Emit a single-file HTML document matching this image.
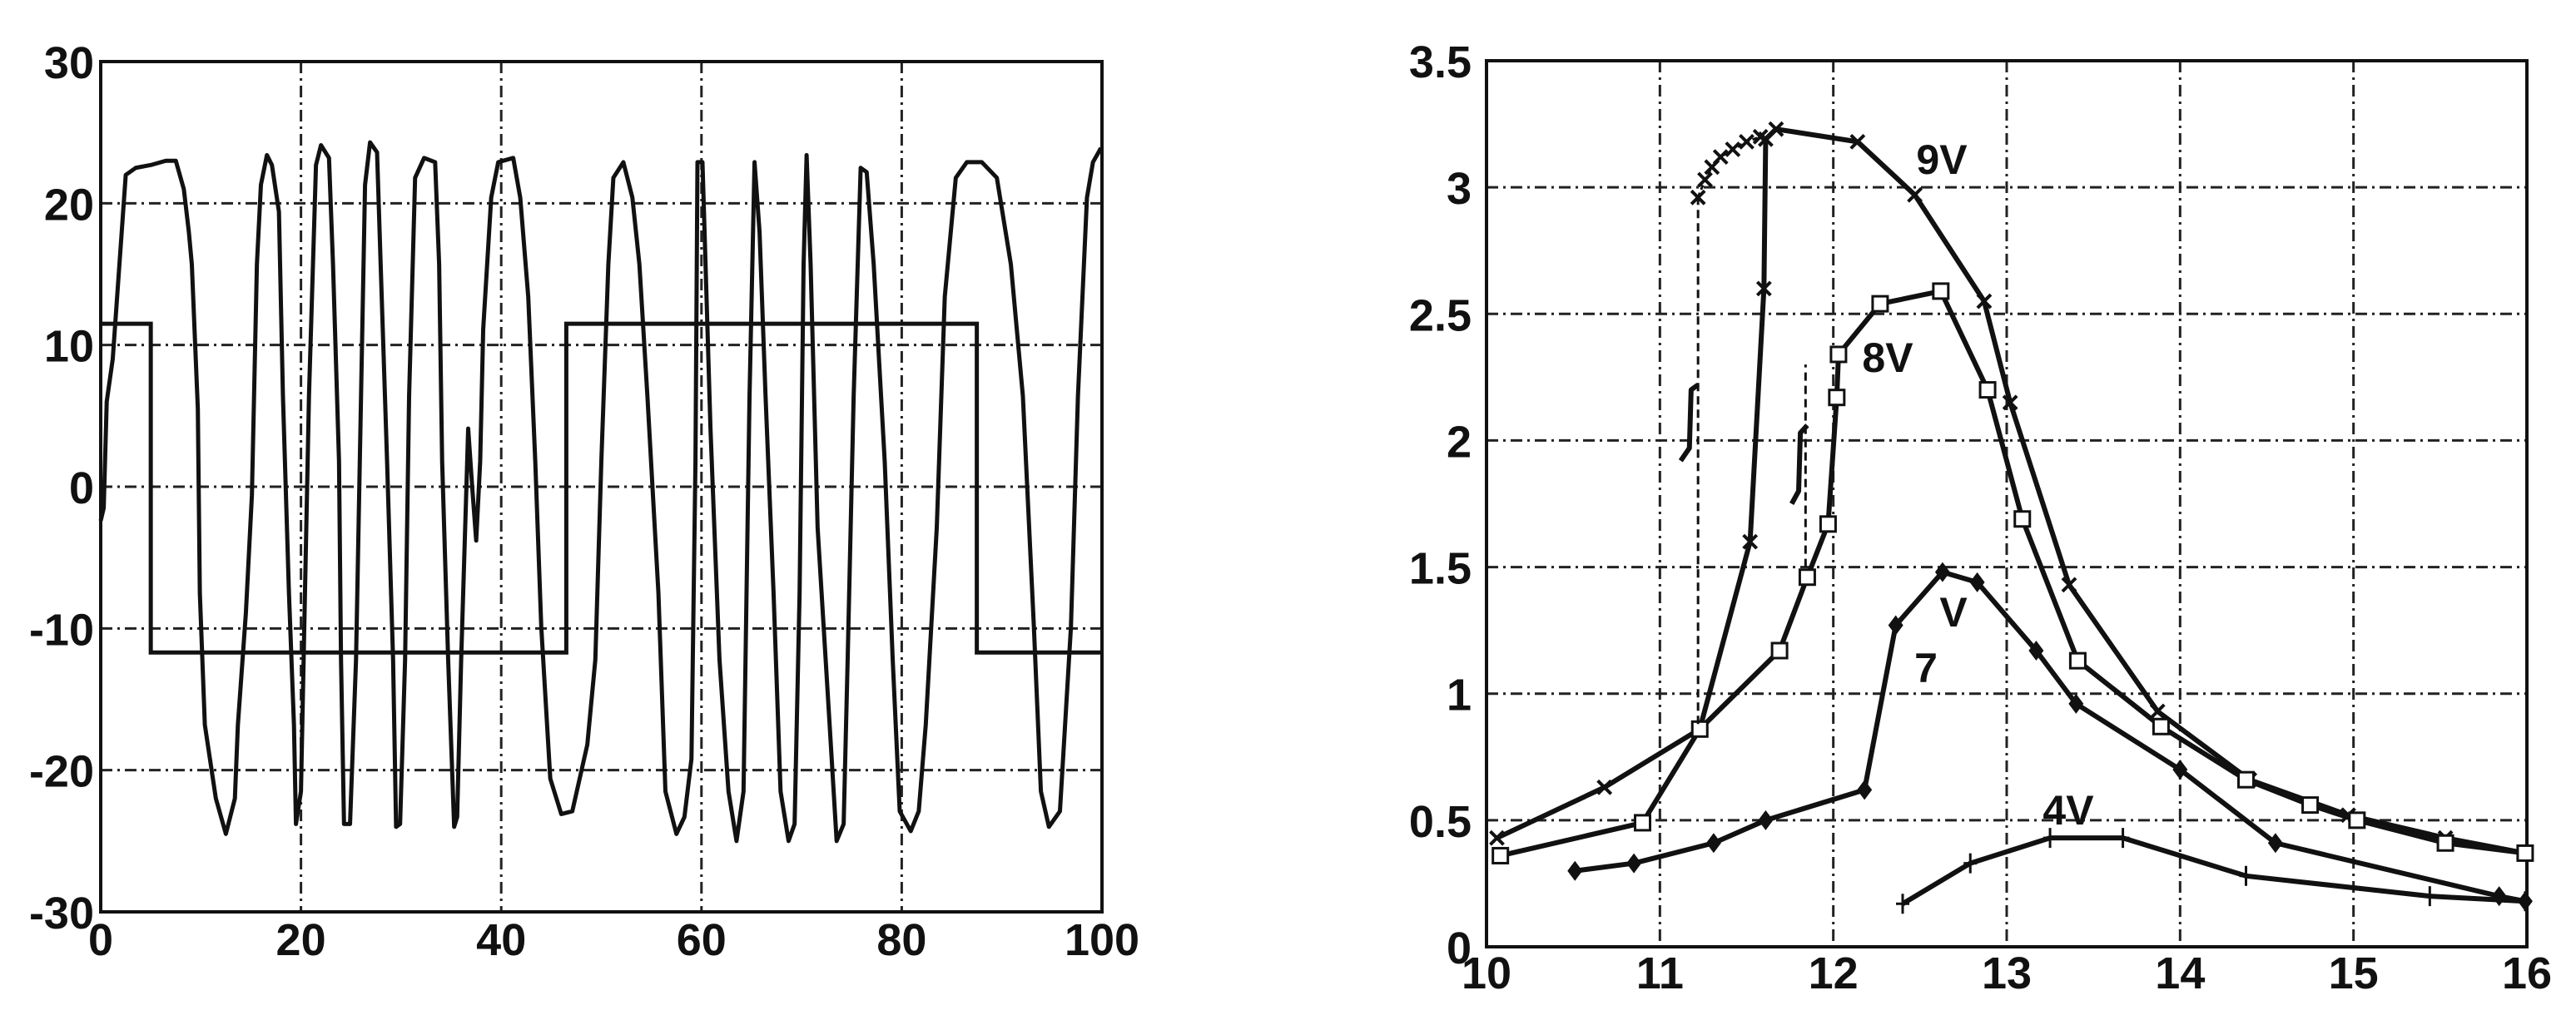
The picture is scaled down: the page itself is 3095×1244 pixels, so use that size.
<!DOCTYPE html>
<html><head><meta charset="utf-8">
<style>
html,body{margin:0;padding:0;background:#fff;}
svg{display:block;}
text{font-family:"Liberation Sans Narrow","Liberation Sans",sans-serif;font-weight:bold;fill:#111;}
</style></head>
<body>
<svg id="root" width="3095" height="1244" viewBox="0 0 3095 1244" xmlns="http://www.w3.org/2000/svg">
<g id="left"></g>
<g id="right"></g>
</svg>
<script>
// ---------- LEFT CHART DATA ----------
const leftXTicks = [0,20,40,60,80,100];
const leftYTicks = [30,20,10,0,-10,-20,-30];
const squareT = [0,5,5,46.5,46.5,87.5,87.5,100];
const squareV = [11.5,11.5,-11.7,-11.7,11.5,11.5,-11.7,-11.7];
const waveT = [0,0.3,0.6,1.2,1.8,2.5,3.5,5,6.5,7.5,8.3,8.8,9.1,9.7,9.9,10.4,11.5,12.5,13.4,13.7,14.5,15.1,15.6,16.0,16.6,17.1,17.8,18.2,18.8,19.3,19.5,20.0,20.4,20.8,21.2,21.5,22.0,22.8,23.2,23.8,24.0,24.3,24.9,25.5,26.0,26.4,26.9,27.6,28.0,28.6,29.2,29.5,29.9,30.4,30.8,31.4,32.3,33.4,33.8,34.1,34.7,35.3,35.6,36.0,36.4,36.7,37.1,37.5,37.9,38.2,39.0,39.7,41.2,41.9,42.7,43.4,44.0,44.9,46.0,47.1,48.6,49.4,50.0,50.7,51.2,52.2,53.1,53.8,54.6,55.7,56.4,57.5,58.3,59.0,59.4,59.6,60.1,60.9,61.8,62.7,63.5,64.2,64.8,65.3,65.8,66.4,67.2,67.9,68.7,69.3,69.8,70.2,70.5,70.9,71.6,72.8,73.5,74.2,74.6,75.2,75.9,76.5,77.2,78.3,79.1,79.8,80.9,81.7,82.4,83.5,84.3,85.4,86.5,88.0,89.5,90.9,92.1,93.2,93.9,94.7,95.8,96.9,97.6,98.5,99.1,99.9];
const waveV = [-2.4,-1.5,6,9,15,22,22.5,22.7,23,23,21,18,15.7,5.5,-7.5,-16.8,-22,-24.5,-22,-16.8,-8.9,-0.6,15.7,21.3,23.4,22.7,19.4,6.4,-7.5,-16.8,-23.8,-21.5,-7.5,6.4,15.7,22.7,24.1,23.2,15.7,1.8,-12.2,-23.8,-23.8,-12.2,6.4,21.3,24.3,23.6,14.8,1.8,-12.2,-24.0,-23.8,-12.2,6.4,21.8,23.2,22.9,15.7,1.8,-12.2,-24.0,-23.3,-12.2,-2.9,4.1,0,-3.8,1.8,11.1,20.4,22.9,23.2,20.4,13.4,1.8,-9.9,-20.6,-23.1,-22.9,-18.2,-12.2,1.8,15.7,21.8,22.9,20.4,15.7,6.4,-7.5,-21.5,-24.5,-23.3,-19.2,1.8,22.9,22.9,4.1,-12.2,-21.5,-25.0,-21.5,6.4,22.9,18.0,6.4,-7.5,-21.5,-25.0,-23.8,-7.5,15.7,23.4,15.7,-2.9,-16.8,-25.0,-23.8,-12.2,6.4,22.5,22.2,15.7,1.8,-12.2,-22.9,-24.3,-22.9,-16.8,-2.9,13.4,21.8,22.9,22.9,21.8,15.7,6.4,-9.9,-21.5,-24.0,-22.9,-9.9,6.4,20.4,22.9,23.9];

// ---------- RIGHT CHART DATA ----------
const rightXTicks = [10,11,12,13,14,15,16];
const rightYTicks = [0,0.5,1,1.5,2,2.5,3,3.5];
const v9X = [10.06,10.68,11.23,11.52,11.6,11.61,11.67,12.14,12.47,12.87,13.02,13.36,13.87,14.40,14.97,15.53,15.99];
const v9Y = [0.43,0.63,0.86,1.60,2.6,3.19,3.23,3.18,2.97,2.55,2.15,1.43,0.93,0.66,0.52,0.43,0.37];
const v8X = [10.08,10.90,11.23,11.69,11.85,11.97,12.02,12.03,12.27,12.62,12.89,13.09,13.41,13.89,14.38,14.75,15.02,15.53,15.99];
const v8Y = [0.36,0.49,0.86,1.17,1.46,1.67,2.17,2.34,2.54,2.59,2.20,1.69,1.13,0.87,0.66,0.56,0.50,0.41,0.37];
const v7X = [10.51,10.85,11.31,11.61,12.18,12.36,12.63,12.83,13.17,13.40,14.0,14.55,15.84,15.99];
const v7Y = [0.30,0.33,0.41,0.50,0.62,1.27,1.48,1.44,1.17,0.96,0.70,0.41,0.20,0.18];
const v4X = [12.40,12.79,13.25,13.67,14.38,15.44,15.99];
const v4Y = [0.17,0.33,0.43,0.43,0.28,0.20,0.18];
const hyst9X = [11.22,11.26,11.3,11.35,11.42,11.5,11.58];
const hyst9Y = [2.96,3.03,3.08,3.12,3.15,3.18,3.2];
const hook9X = [11.12,11.17,11.18,11.22];
const hook9Y = [1.92,1.97,2.2,2.22];
const hook8X = [11.76,11.8,11.81,11.85];
const hook8Y = [1.75,1.8,2.03,2.06];

const NS = "http://www.w3.org/2000/svg";
function mk(parent, tag, attrs){ const e=document.createElementNS(NS,tag); for(const k in attrs) e.setAttribute(k,attrs[k]); parent.appendChild(e); return e; }

// LEFT axes
const L = {x0:121,x1:1324,y0:74,y1:1096,xmin:0,xmax:100,ymin:-30,ymax:30};
const lx = v => L.x0 + (v-L.xmin)/(L.xmax-L.xmin)*(L.x1-L.x0);
const ly = v => L.y1 - (v-L.ymin)/(L.ymax-L.ymin)*(L.y1-L.y0);
const gl = document.getElementById('left');
leftXTicks.forEach(t=>{
  if(t>L.xmin && t<L.xmax){
    const g=mk(gl,'line',{x1:lx(t),x2:lx(t),y1:L.y0,y2:L.y1,stroke:'#222','stroke-width':3,'stroke-dasharray':'14 6 3 6'});
    
    
  }
  const tx=mk(gl,'text',{x:lx(t),y:L.y1+52,'text-anchor':'middle','font-size':54});
  tx.textContent=t;
  
  
});
leftYTicks.forEach(t=>{
  if(t>L.ymin && t<L.ymax){
    const g=mk(gl,'line',{x1:L.x0,x2:L.x1,y1:ly(t),y2:ly(t),stroke:'#222','stroke-width':3,'stroke-dasharray':'14 6 3 6'});
    
    
  }
  const tx=mk(gl,'text',{x:L.x0-8,y:ly(t)+20,'text-anchor':'end','font-size':54});
  tx.textContent=t;
  
  
});
const lf=mk(gl,'rect',{x:L.x0,y:L.y0,width:L.x1-L.x0,height:L.y1-L.y0,fill:'none',stroke:'#111','stroke-width':4});


const sq=mk(gl,'polyline',{points:squareT.map((t,i)=>lx(t)+','+ly(squareV[i])).join(' '),fill:'none',stroke:'#111','stroke-width':5});


const wv=mk(gl,'polyline',{points:waveT.map((t,i)=>lx(t)+','+ly(waveV[i])).join(' '),fill:'none',stroke:'#111','stroke-width':5,'stroke-linejoin':'round'});



// RIGHT axes
const R = {x0:1786,x1:3036,y0:73,y1:1138,xmin:10,xmax:16,ymin:0,ymax:3.5};
const rx = v => R.x0 + (v-R.xmin)/(R.xmax-R.xmin)*(R.x1-R.x0);
const ry = v => R.y1 - (v-R.ymin)/(R.ymax-R.ymin)*(R.y1-R.y0);
const gr = document.getElementById('right');
rightXTicks.forEach(t=>{
  if(t>R.xmin && t<R.xmax){
    const g=mk(gr,'line',{x1:rx(t),x2:rx(t),y1:R.y0,y2:R.y1,stroke:'#222','stroke-width':3,'stroke-dasharray':'14 6 3 6'});
    
    
  }
  const tx=mk(gr,'text',{x:rx(t),y:R.y1+50,'text-anchor':'middle','font-size':54});
  tx.textContent=t;
  
  
});
rightYTicks.forEach(t=>{
  if(t>R.ymin && t<R.ymax){
    const g=mk(gr,'line',{x1:R.x0,x2:R.x1,y1:ry(t),y2:ry(t),stroke:'#222','stroke-width':3,'stroke-dasharray':'14 6 3 6'});
    
    
  }
  const tx=mk(gr,'text',{x:R.x0-18,y:ry(t)+20,'text-anchor':'end','font-size':54});
  tx.textContent=t;
  
  
});
const rf=mk(gr,'rect',{x:R.x0,y:R.y0,width:R.x1-R.x0,height:R.y1-R.y0,fill:'none',stroke:'#111','stroke-width':4});



function series(xs,ys,name,marker,dash){
  const p=mk(gr,'polyline',{points:xs.map((x,i)=>rx(x)+','+ry(ys[i])).join(' '),fill:'none',stroke:'#111','stroke-width':dash?3:6,'stroke-linejoin':'round'});
  if(dash) p.setAttribute('stroke-dasharray',dash);
  
  
  if(!marker) return;
  xs.forEach((x,i)=>{
    const cx=rx(x), cy=ry(ys[i]); let m;
    if(marker==='square') m=mk(gr,'rect',{x:cx-9,y:cy-9,width:18,height:18,fill:'#fff',stroke:'#111','stroke-width':3});
    else if(marker==='diamond') m=mk(gr,'path',{d:`M${cx} ${cy-12}L${cx+9} ${cy}L${cx} ${cy+12}L${cx-9} ${cy}Z`,fill:'#111'});
    else if(marker==='plus') m=mk(gr,'path',{d:`M${cx} ${cy-12}V${cy+12}M${cx-8} ${cy}H${cx+8}`,stroke:'#111','stroke-width':3});
    else m=mk(gr,'path',{d:`M${cx-8} ${cy-8}L${cx+8} ${cy+8}M${cx+8} ${cy-8}L${cx-8} ${cy+8}`,stroke:'#111','stroke-width':4});
    
    
  });
}
series(v9X,v9Y,'series-9v','cross');
series(v8X,v8Y,'series-8v','square');
series(v7X,v7Y,'series-7v','diamond');
series(v4X,v4Y,'series-4v','plus');
series(hyst9X,hyst9Y,'hysteresis-9v','cross','6 4');
series(hook9X,hook9Y,'hook-9v',null);
series(hook8X,hook8Y,'hook-8v',null);
const d1=mk(gr,'line',{x1:rx(11.22),x2:rx(11.22),y1:ry(0.88),y2:ry(2.95),stroke:'#111','stroke-width':3,'stroke-dasharray':'10 6'});


const d2=mk(gr,'line',{x1:rx(11.84),x2:rx(11.84),y1:ry(1.5),y2:ry(2.3),stroke:'#111','stroke-width':3,'stroke-dasharray':'10 6'});



const labels=[['9V',2333,209,'label-9v'],['8V',2268,447,'label-8v'],['V',2347,753,'label-7v-v'],['7',2314,820,'label-7v'],['4V',2485,991,'label-4v']];
labels.forEach(l=>{
  const t=mk(gr,'text',{x:l[1],y:l[2],'text-anchor':'middle','font-size':50});
  t.textContent=l[0];
  
  
});
</script>
</body></html>
